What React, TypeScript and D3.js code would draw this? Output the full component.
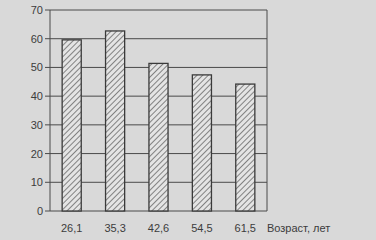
import React from "react";
import * as d3 from "d3";

const categories = ["26,1", "35,3", "42,6", "54,5", "61,5"];
const values = [59.6, 62.7, 51.4, 47.4, 44.2];
const yTicks = [0, 10, 20, 30, 40, 50, 60, 70];
const xAxisTitle = "Возраст, лет";

export default function App() {
  const W = 376, H = 240;
  const left = 50, right = 267, top = 10, bottom = 211;
  const x = d3.scaleBand<string>().domain(categories).range([left, right]).paddingInner(0.56).paddingOuter(0.28);
  const y = d3.scaleLinear().domain([0, 70]).range([bottom, top]);
  const line = "#4a4a4a";
  const text = "#3c3c3c";
  return (
    <svg width={W} height={H} style={{ position: "absolute", left: 0, top: 0, display: "block" }}
      fontFamily="'Liberation Sans', Arial, sans-serif">
      <defs>
        <pattern id="hatch" patternUnits="userSpaceOnUse" width={4} height={4} patternTransform="rotate(45)">
          <rect width={4} height={4} fill="#e4e4e4" />
          <line x1={0} y1={0} x2={0} y2={4} stroke="#4d4d4d" strokeWidth={1.3} />
        </pattern>
      </defs>
      <rect width={W} height={H} fill="#d9d9d9" />
      {yTicks.map(t => (
        <g key={t}>
          <line x1={left - 5} x2={right} y1={y(t)} y2={y(t)} stroke={line} strokeWidth={1} />
          <text x={left - 7} y={y(t) + 4} textAnchor="end" fontSize={11} fill={text}>{t}</text>
        </g>
      ))}
      <line x1={left} x2={left} y1={top} y2={bottom} stroke={line} strokeWidth={1} />
      <line x1={right} x2={right} y1={top} y2={bottom} stroke={line} strokeWidth={1} />
      {categories.map((c, i) => (
        <g key={c}>
          <rect x={x(c)!} y={y(values[i])} width={x.bandwidth()} height={bottom - y(values[i])}
            fill="url(#hatch)" stroke="#3a3a3a" strokeWidth={1.3} />
          <text x={x(c)! + x.bandwidth() / 2} y={232} textAnchor="middle" fontSize={11} fill={text}>{c}</text>
        </g>
      ))}
      <text x={267} y={232} fontSize={11} fill={text}>{xAxisTitle}</text>
    </svg>
  );
}
